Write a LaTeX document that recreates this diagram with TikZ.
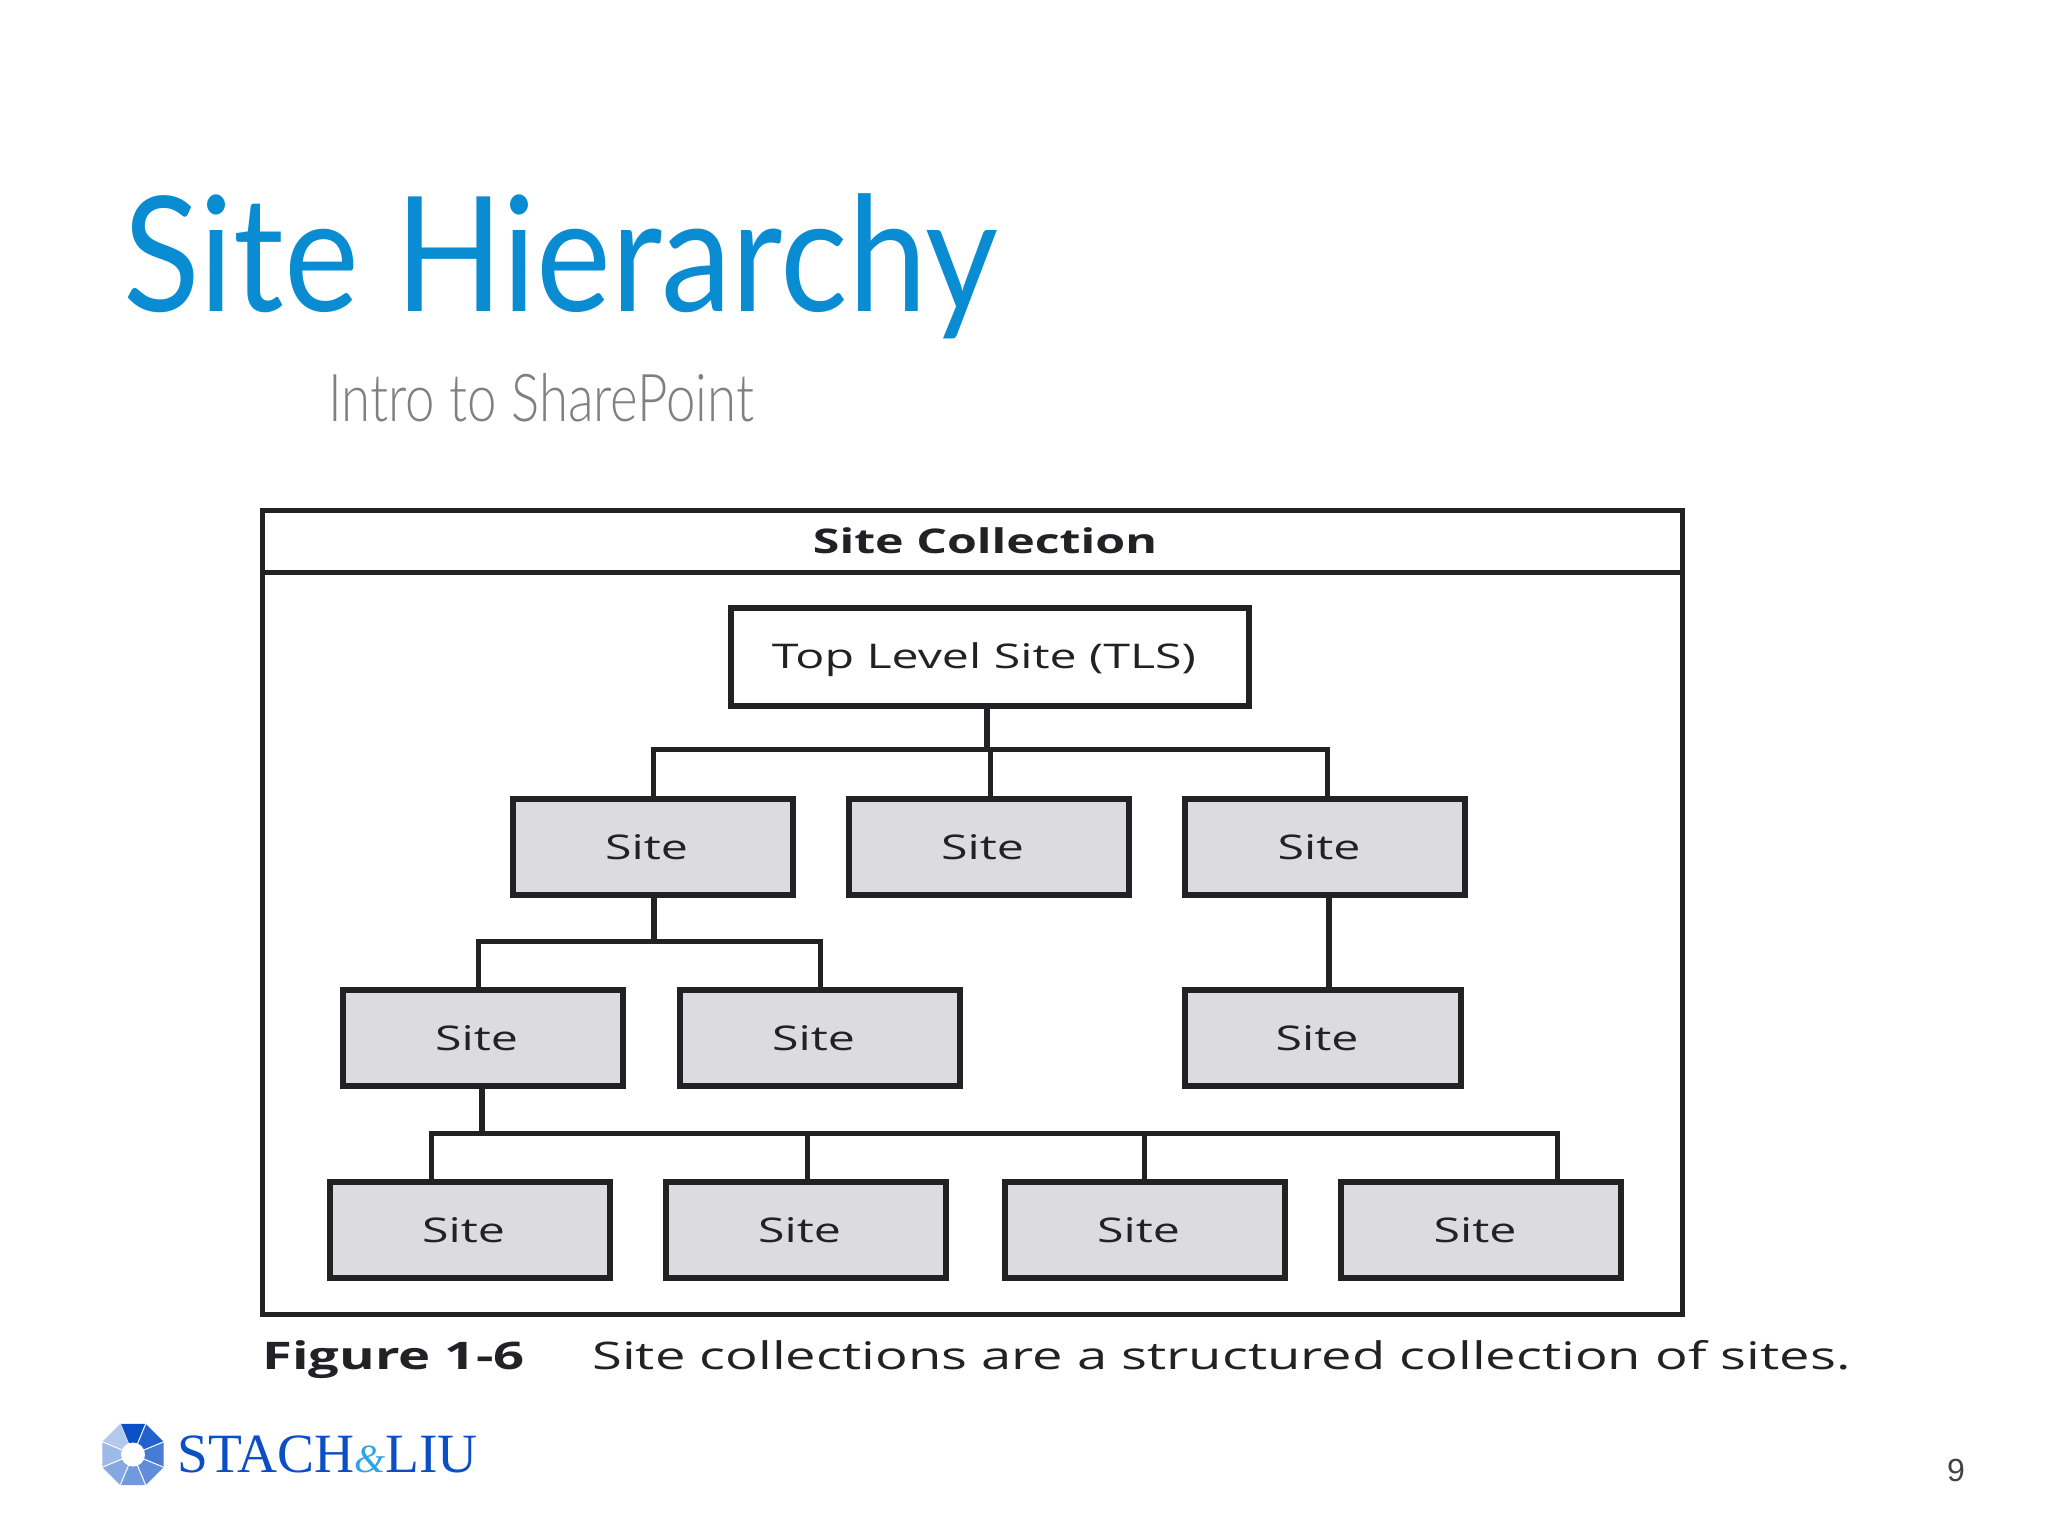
\documentclass[tikz,border=0pt]{standalone}
\usepackage{fontspec}
\setmainfont{Liberation Sans}
\newfontfamily\titlefont[FakeStretch=0.885]{Lato}
\newfontfamily\subtitlefont[FakeStretch=0.80]{Lato Light}
\newfontfamily\figfont[FakeStretch=1.42]{Open Sans}
\newfontfamily\capfont[FakeStretch=1.43]{Open Sans}
\newfontfamily\logofont{Liberation Serif}
\definecolor{titleblue}{HTML}{0A8CD2}
\definecolor{subgray}{HTML}{808080}
\definecolor{inkdark}{HTML}{222226}
\definecolor{boxgray}{HTML}{DCDCDF}
\definecolor{logoblue}{HTML}{0B4FC6}
\definecolor{logolight}{HTML}{2EA3E8}
\tikzset{
  framebox/.style={draw=inkdark,line width=2.5pt,inner sep=0pt,outer sep=0pt},
  sitebox/.style={framebox,line width=3pt,fill=boxgray,minimum width=140pt,minimum height=48pt,
    font=\figfont\fontsize{17}{20}\selectfont,text=inkdark,execute at end node=\hspace{6pt}},
  link/.style={draw=inkdark,line width=2.5pt},
  stem/.style={draw=inkdark,line width=3.2pt}
}
\begin{document}
\begin{tikzpicture}[x=0.5pt,y=-0.5pt]
  \useasboundingbox (0,0) rectangle (2048,1536);
  % heading
  \node[anchor=west,inner sep=0pt,text=titleblue,font=\titlefont\fontsize{80}{90}\selectfont] (title) at (123,266) {Site Hierarchy};
  \node[anchor=west,inner sep=0pt,text=subgray,font=\subtitlefont\fontsize{33}{40}\selectfont] (subtitle) at (328,398) {Intro to SharePoint};
  % outer frame
  \node[framebox,minimum width=710pt,minimum height=402pt] (frame) at (972.5,912) {};
  \coordinate (headl) at (262.5,572);
  \draw[link] (headl) -- (headl -| frame.east);
  \node[inner sep=0pt,text=inkdark,font=\figfont\bfseries\fontsize{17}{20}\selectfont] (head) at (985,541) {Site Collection};
  \node[framebox,line width=3pt,minimum width=259pt,minimum height=49pt,fill=white,text=inkdark,font=\figfont\fontsize{17}{20}\selectfont,text height=14pt,text depth=2.4pt,execute at end node=\hspace{6pt}] (tls) at (990,657) {Top Level Site (TLS)};
  % sites
  \node[sitebox] (s1) at (652.5,847) {Site};
  \node[sitebox] (s2) at (988.5,847) {Site};
  \node[sitebox] (s3) at (1325,847) {Site};
  \node[sitebox] (s4) at (482.5,1038) {Site};
  \node[sitebox] (s5) at (819.5,1038) {Site};
  \node[sitebox,minimum width=138pt] (s6) at (1323,1038) {Site};
  \node[sitebox] (s7) at (469.5,1230) {Site};
  \node[sitebox] (s8) at (805.5,1230) {Site};
  \node[sitebox] (s9) at (1144.5,1230) {Site};
  \node[sitebox] (s10) at (1481,1230) {Site};
  % connectors
  \coordinate (bus1) at (987,749);
  \coordinate (bus2) at (654,941);
  \coordinate (bus3) at (482,1133);
  \draw[stem] (tls.south -| bus1) -- ([yshift=-1.5pt]bus1);
  \draw[link] (s1.north -| 653,0) |- (bus1) -| (s3.north -| 1327,0);
  \draw[link] (s2.north -| 990,0) -- (bus1 -| 990,0);
  \draw[stem] (s1.south -| bus2) -- ([yshift=-1.5pt]bus2);
  \draw[link] (s4.north -| 478,0) |- (bus2) -| (s5.north -| 820,0);
  \draw[stem] (s3.south -| 1329,0) -- (s6.north -| 1329,0);
  \draw[stem] (s4.south -| bus3) -- ([yshift=-1.5pt]bus3);
  \draw[link] (s7.north -| 431,0) |- (bus3) -| (s10.north -| 1557,0);
  \draw[link] (s8.north -| 807,0) -- (bus3 -| 807,0);
  \draw[link] (s9.north -| 1144,0) -- (bus3 -| 1144,0);
  % caption
  \node[anchor=base west,inner sep=0pt,text=inkdark,font=\capfont\bfseries\fontsize{19}{22}\selectfont] (figno) at (262,1369) {Figure 1-6};
  \node[anchor=base west,inner sep=0pt,text=inkdark,font=\capfont\fontsize{19}{22}\selectfont] (caption) at (592,1369) {Site collections are a structured collection of sites.};
  % logo
  \foreach \k/\t in {0/100,1/90,2/75,3/65,4/58,5/50,6/40,7/31} {
    \fill[logoblue!\t!white] (133,1454.5) -- ({133+33.2*cos(-112.5+45*\k)},{1454.5+33.2*sin(-112.5+45*\k)})
      -- ({133+33.2*cos(-67.5+45*\k)},{1454.5+33.2*sin(-67.5+45*\k)}) -- cycle;
    \draw[white,line width=0.5pt] (133,1454.5) -- ({133+34*cos(-112.5+45*\k)},{1454.5+34*sin(-112.5+45*\k)});
  }
  \fill[white] (133,1454.5) circle (12);
  \node[anchor=base west,inner sep=0pt,text=logoblue,font=\logofont\fontsize{27.7}{30}\selectfont] (logo) at (177,1472) {STACH\textcolor{logolight}{\textit{\fontsize{20}{24}\selectfont\&}}LIU};
  % page number
  \node[inner sep=0pt,text=inkdark!85,font=\fontsize{16}{20}\selectfont] (page) at (1956,1470) {9};
\end{tikzpicture}
\end{document}
